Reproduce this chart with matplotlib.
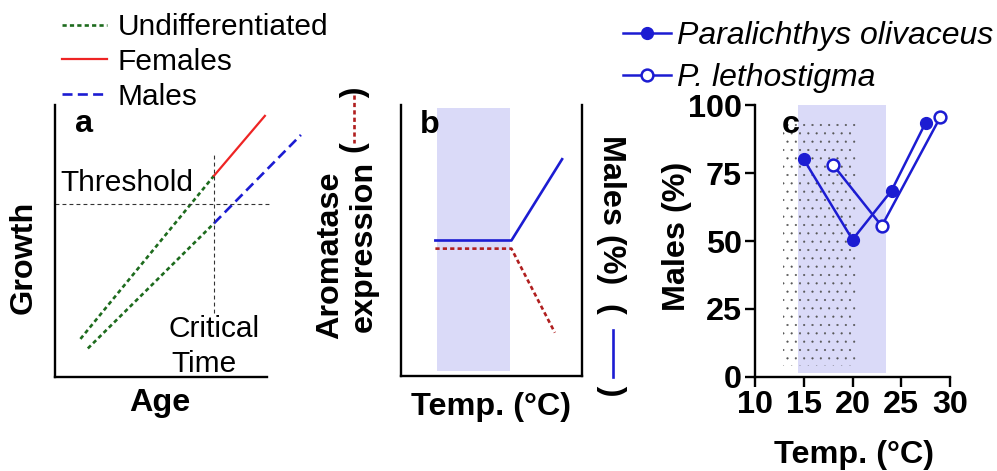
import matplotlib
matplotlib.use("Agg")
import matplotlib.pyplot as plt
from matplotlib.lines import Line2D
from matplotlib.patches import Rectangle

plt.rcParams['font.family'] = ['Liberation Sans', 'DejaVu Sans']
plt.rcParams['hatch.linewidth'] = 0.3

# ---------------------------------------------------------------------------
# data
# ---------------------------------------------------------------------------
# panel a (schematic, arbitrary units)
age_undiff_hi = [1.2, 7.5]
growth_undiff_hi = [1.4, 7.4]
age_undiff_lo = [1.55, 7.5]
growth_undiff_lo = [1.05, 5.65]
age_females = [7.5, 9.9]
growth_females = [7.4, 9.6]
age_males = [7.5, 11.6]
growth_males = [5.65, 8.9]
threshold = 6.35
critical_time = 7.5

# panel b (schematic)
temp_b_males = [1.9, 6.1, 8.9]
males_b = [5.0, 5.0, 8.0]
temp_b_arom = [1.9, 6.1, 8.5]
aromatase_b = [4.7, 4.7, 1.6]
tsd_b = (2.0, 6.0)

# panel c
temp_olivaceus = [15, 20, 24, 27.5]
males_olivaceus = [80, 50.5, 68.5, 93.5]
temp_lethostigma = [18, 23, 29]
males_lethostigma = [78, 55.5, 95.5]
shade_c = (14.4, 23.4)
dots_c_temp = (12.9, 20.5)
dots_c_males = (4, 94.5)
xticks_c = [10, 15, 20, 25, 30]
yticks_c = [0, 25, 50, 75, 100]

# ---------------------------------------------------------------------------
W, H = 997, 471
FS = 21.5     # regular text
FB = 23.3     # bold labels
FI = 23.0     # italic legend
BLUE = '#1c1cd2'
RED = '#ee2424'
DKRED = '#b01e1e'
GREEN = '#1d6b1d'
SHADE = '#dadaf8'


def fx(px):
    return px / W


def fy(py):
    return 1 - py / H


def box(l, t, r, b):
    return [fx(l), fy(b), (r - l) / W, (b - t) / H]


fig = plt.figure(figsize=(W / 100, H / 100), dpi=100)


def ftext(x, y, s, **kw):
    kw.setdefault('fontsize', FS)
    return fig.text(fx(x), fy(y), s, **kw)


def btext(x, y, s, **kw):
    kw.setdefault('fontsize', FB)
    return ftext(x, y, s, fontweight='bold', **kw)


# ----------------------------- panel a -------------------------------------
ax_a = fig.add_axes(box(55, 105, 267, 377))
ax_a.set_xlim(0, 10)
ax_a.set_ylim(0, 10)
for s in ['top', 'right']:
    ax_a.spines[s].set_visible(False)
for s in ['left', 'bottom']:
    ax_a.spines[s].set_linewidth(1.7)
ax_a.set_xticks([])
ax_a.set_yticks([])

dotted = (0, (1.6, 1.2))
dashed = (0, (3.8, 2.0))
thin = (0, (3.5, 2.8))
l_und, = ax_a.plot(age_undiff_hi, growth_undiff_hi, color=GREEN, lw=1.9, ls=dotted)
ax_a.plot(age_undiff_lo, growth_undiff_lo, color=GREEN, lw=1.9, ls=dotted)
l_fem, = ax_a.plot(age_females, growth_females, color=RED, lw=1.6, clip_on=False)
l_mal, = ax_a.plot(age_males, growth_males, color=BLUE, lw=1.9, ls=dashed, clip_on=False)
ax_a.plot([0, 10.1], [threshold, threshold], color='#333333', lw=0.8, ls=thin, clip_on=False)
ax_a.vlines(critical_time, 2.35, 8.27, color='#333333', lw=0.8, ls=thin)

ftext(60, 191, 'Threshold', va='baseline')
ftext(169, 337, 'Critical', va='baseline')
ftext(171, 372, 'Time', va='baseline')
btext(75, 132, 'a', va='baseline')
btext(24, 257, 'Growth', rotation=90, ha='center', va='center')
btext(160, 403, 'Age', ha='center', va='center')

fig.legend([l_und, l_fem, l_mal], ['Undifferentiated', 'Females', 'Males'],
           loc='upper left', bbox_to_anchor=(fx(62), fy(13)), frameon=False,
           fontsize=FS, handlelength=1.5, handletextpad=0.37, labelspacing=0.23,
           borderpad=0, borderaxespad=0)

# ----------------------------- panel b -------------------------------------
ax_b = fig.add_axes(box(401, 105, 582, 376))
ax_b.set_xlim(0, 10)
ax_b.set_ylim(0, 10)
ax_b.spines['top'].set_visible(False)
for s in ['left', 'right', 'bottom']:
    ax_b.spines[s].set_linewidth(1.7)
ax_b.set_xticks([])
ax_b.set_yticks([])
ax_b.axvspan(*tsd_b, ymin=0.02, ymax=0.99, color=SHADE, lw=0)
ax_b.plot(temp_b_males, males_b, color=BLUE, lw=1.9)
ax_b.plot(temp_b_arom, aromatase_b, color=DKRED, lw=1.9, ls=dotted)
btext(420, 133, 'b', va='baseline')
btext(491, 407, 'Temp. (°C)', ha='center', va='center')

btext(330, 255, 'Aromatase', rotation=90, ha='center', va='center')
btext(364, 246, 'expression', rotation=90, ha='center', va='center')
btext(355, 120, '(     )', rotation=90, ha='center', va='center')
fig.add_artist(Line2D([fx(354)] * 2, [fy(95), fy(143)], color=DKRED, lw=1.9, ls=dotted))

btext(611, 210, 'Males (%)', rotation=270, ha='center', va='center')
btext(611, 350, '(        )', rotation=270, ha='center', va='center')
fig.add_artist(Line2D([fx(613)] * 2, [fy(330), fy(377)], color=BLUE, lw=1.9))

# ----------------------------- panel c -------------------------------------
ax_c = fig.add_axes(box(755, 105, 950, 377))
ax_c.set_xlim(10, 30)
ax_c.set_ylim(0, 100)
for s in ['top', 'right']:
    ax_c.spines[s].set_visible(False)
for s in ['left', 'bottom']:
    ax_c.spines[s].set_linewidth(1.7)
ax_c.axvspan(*shade_c, ymin=0.015, ymax=1.0, color=SHADE, lw=0, zorder=0)
ax_c.add_patch(Rectangle((dots_c_temp[0], dots_c_males[0]),
                         dots_c_temp[1] - dots_c_temp[0],
                         dots_c_males[1] - dots_c_males[0],
                         facecolor='none', edgecolor='#555555', lw=0,
                         hatch='..', zorder=0.5))
l_oli, = ax_c.plot(temp_olivaceus, males_olivaceus, color=BLUE, lw=1.8,
                   marker='o', ms=8.5, mfc=BLUE, mec=BLUE, clip_on=False, zorder=3)
l_let, = ax_c.plot(temp_lethostigma, males_lethostigma, color=BLUE, lw=1.8,
                   marker='o', ms=8.5, mfc='white', mec=BLUE, mew=1.8,
                   clip_on=False, zorder=3)
ax_c.set_xticks(xticks_c)
ax_c.set_yticks(yticks_c)
ax_c.tick_params(length=7, width=1.7, pad=2.5, labelsize=FB)
for lab in ax_c.get_xticklabels() + ax_c.get_yticklabels():
    lab.set_fontweight('bold')
btext(782, 133, 'c', va='baseline')
btext(677, 236, 'Males (%)', rotation=90, ha='center', va='center')
btext(854, 455, 'Temp. (°C)', ha='center', va='center')

fig.legend([l_oli, l_let], ['Paralichthys olivaceus', 'P. lethostigma'],
           loc='upper left', bbox_to_anchor=(fx(623), fy(21)), frameon=False,
           prop={'style': 'italic', 'size': FI}, numpoints=1,
           handlelength=1.5, handletextpad=0.2, labelspacing=0.37,
           borderpad=0, borderaxespad=0)

fig.savefig('out.png', dpi=100)
